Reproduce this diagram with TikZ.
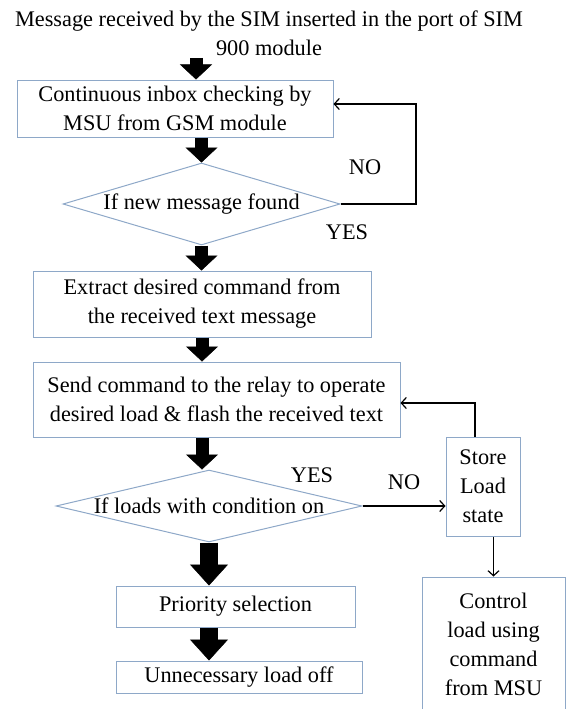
\documentclass[tikz,border=0pt]{standalone}
\usepackage{fontspec}
\setmainfont{Liberation Serif}
\usetikzlibrary{arrows.meta,shapes.geometric}
\definecolor{boxBlue}{HTML}{8EA8C8}

\begin{document}
\begin{tikzpicture}[
    x=1pt, y=-1pt,
    every node/.style={font=\fontsize{22.3}{29}\selectfont, align=center},
    flowbox/.style={draw=boxBlue, line width=1pt, fill=white, inner sep=0pt},
    decision/.style={draw=boxBlue, line width=1pt, diamond, inner sep=0pt, fill=white},
    bigarrow/.style={line width=13pt, -{Triangle[width=32pt, length=15pt, line width=0.5pt]}},
    widearrow/.style={line width=18pt, -{Triangle[width=38pt, length=21pt, line width=0.5pt]}},
    thinarrow/.style={line width=1.2pt, -{Straight Barb[length=5pt, width=11pt]}}
]
    \useasboundingbox (0,0) rectangle (569,709);

    \node (title) at (269,33) {Message received by the SIM inserted in the port of SIM\\900 module};
    \node[flowbox, minimum width=316pt, minimum height=57pt] (check) at (175,108.5) {Continuous inbox checking by\\MSU from GSM module};
    \node[decision, aspect=3.38, minimum width=277pt, minimum height=82pt] (newmsg) at (201.5,204) {If new message found};
    \node[flowbox, minimum width=338pt, minimum height=66pt] (extract) at (202,304) {Extract desired command from\\the received text message};
    \node[flowbox, minimum width=367pt, minimum height=75pt] (send) at (216.5,399.5) {Send command to the relay to operate\\desired load \& flash the received text};
    \node[decision, aspect=4.25, minimum width=306pt, minimum height=72pt] (cond) at (209,506) {If loads with condition on};
    \node[flowbox, minimum width=239pt, minimum height=41pt] (prio) at (235.5,606.5) {Priority selection};
    \node[flowbox, minimum width=246pt, minimum height=32pt] (off) at (239,677) {Unnecessary load off};
    \node[flowbox, minimum width=74pt, minimum height=99pt] (store) at (483,486.5) {Store\\Load\\state};
    \node[flowbox, minimum width=143pt, minimum height=134pt] (ctrl) at (493.5,644) {Control\\load using\\command\\from MSU};

    \node (no1) at (365,167) {NO};
    \node (yes1) at (347,232) {YES};
    \node (yes2) at (312,475) {YES};
    \node (no2) at (404,482) {NO};

    \coordinate (start) at (196,58);
    \coordinate (loop1) at (416,104);
    \coordinate (loop2) at (475,403);

    % main flow
    \draw[bigarrow] (start) -- (start |- check.north);
    \draw[bigarrow] (check.south -| newmsg.north) -- (newmsg.north);
    \draw[bigarrow] (newmsg.south) -- (newmsg.south |- extract.north);
    \draw[bigarrow] (extract.south) -- (extract.south |- send.north);
    \draw[bigarrow] (send.south -| extract.south) -- (extract.south |- cond.north);
    \draw[widearrow] (cond.south) -- (cond.south |- prio.north);
    \draw[widearrow] (prio.south -| cond.south) -- (cond.south |- off.north);

    % side branches
    \draw[thinarrow] (newmsg.east) -- (newmsg.east -| loop1) -- (loop1) -- (loop1 -| check.east);
    \draw[thinarrow] (cond.east) -- (cond.east -| store.west);
    \draw[thinarrow] (loop2 |- store.north) -- (loop2) -- (loop2 -| send.east);
    \draw[thinarrow] (store.south -| ctrl.north) -- (ctrl.north);
\end{tikzpicture}
\end{document}
